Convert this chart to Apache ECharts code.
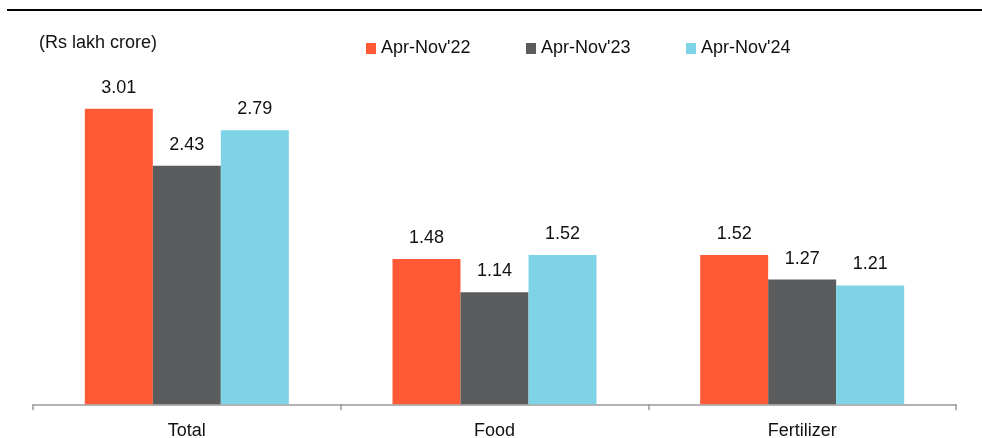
<!DOCTYPE html>
<html>
<head>
<meta charset="utf-8">
<script src="https://cdn.jsdelivr.net/npm/echarts@6/dist/echarts.min.js"></script>
<style>
    html, body { margin: 0; padding: 0; background: #fff; }
    #subsidyChart { width: 982px; height: 438px; }
</style>
</head>
<body>
<div id="subsidyChart"></div>
<script>
// categories and series values
const categories = ['Total', 'Food', 'Fertilizer']
const seriesNames = ["Apr-Nov'22", "Apr-Nov'23", "Apr-Nov'24"]
const fy22 = [3.01, 1.48, 1.52]
const fy23 = [2.43, 1.14, 1.27]
const fy24 = [2.79, 1.52, 1.21]
const unitLabel = '(Rs lakh crore)'

const colors = ['#FF5A35', '#5B5C5E', '#7ED3E7']
const fontFamily = '"Liberation Sans", Arial, sans-serif'
const fontSize = 18

const makeSeries = (name, data, i) => ({
    name: name,
    type: 'bar',
    data: data,
    barGap: '0%',
    barCategoryGap: '33.7%',
    itemStyle: { color: colors[i] },
    label: {
        show: true,
        position: 'top',
        distance: 12,
        color: '#111',
        fontSize: fontSize,
        fontFamily: fontFamily,
        formatter: (p) => p.value.toFixed(2),
    },
})

// one legend per series so the item spacing follows the picture
const legendLefts = [366, 526, 686]
const legends = seriesNames.map((name, i) => ({
    left: legendLefts[i],
    top: 39.5,
    padding: 0,
    itemWidth: 10,
    itemHeight: 11,
    itemGap: 0,
    icon: 'rect',
    textStyle: {
        fontSize: fontSize,
        color: '#111',
        fontFamily: fontFamily,
    },
    data: [name],
}))

const option = {
    animation: false,
    textStyle: { fontFamily: fontFamily },
    title: {
        text: unitLabel,
        left: 39,
        top: 34,
        padding: 0,
        textStyle: {
            fontSize: fontSize,
            fontWeight: 'normal',
            color: '#111',
            fontFamily: fontFamily,
        },
    },
    legend: legends,
    grid: {
        left: 33,
        right: 26,
        top: 60.6,
        bottom: 33.7,
        containLabel: false,
        outerBoundsMode: 'none',
    },
    xAxis: {
        type: 'category',
        data: categories,
        axisLine: { lineStyle: { color: '#999', width: 1.5 } },
        axisTick: { show: true, length: 6, lineStyle: { color: '#999', width: 1.5 } },
        axisLabel: {
            fontSize: fontSize,
            color: '#111',
            margin: 18,
            fontFamily: fontFamily,
        },
    },
    yAxis: {
        type: 'value',
        min: 0,
        max: 3.5,
        show: false,
        splitLine: { show: false },
    },
    graphic: [
        {
            type: 'rect',
            shape: { x: 7, y: 9, width: 975, height: 2 },
            style: { fill: '#000' },
        },
    ],
    series: [
        makeSeries(seriesNames[0], fy22, 0),
        makeSeries(seriesNames[1], fy23, 1),
        makeSeries(seriesNames[2], fy24, 2),
    ],
}

let myChart = echarts.init(document.getElementById('subsidyChart'))
myChart.setOption(option)
</script>
</body>
</html>
